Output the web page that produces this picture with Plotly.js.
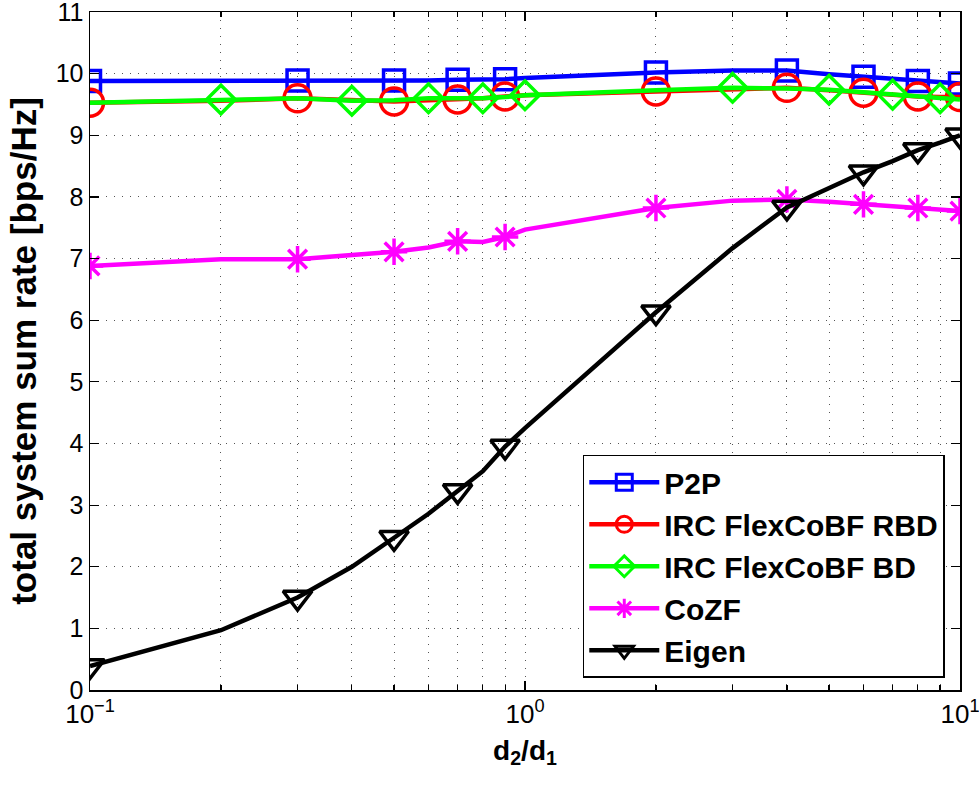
<!DOCTYPE html>
<html>
<head>
<meta charset="utf-8">
<script src="https://cdn.plot.ly/plotly-3.0.1.min.js"></script>
<style>html,body{margin:0;padding:0;background:#fff;} #chart{width:979px;height:787px;}</style>
</head>
<body>
<div id="chart"></div>
<script>
// ---- data ----
var ratio = [0.1,0.2,0.3,0.4,0.5,0.6,0.7,0.8,0.9,1,2,3,4,5,6,7,8,9,10];
var p2p   = [9.88,9.88,9.89,9.88,9.89,9.89,9.90,9.90,9.91,9.93,10.02,10.05,10.05,9.99,9.95,9.91,9.88,9.86,9.84];
var rbd   = [9.53,9.56,9.60,9.57,9.55,9.57,9.58,9.60,9.63,9.65,9.71,9.75,9.77,9.73,9.69,9.66,9.63,9.62,9.62];
var bd    = [9.53,9.58,9.60,9.56,9.57,9.60,9.60,9.60,9.62,9.65,9.73,9.77,9.76,9.74,9.70,9.66,9.62,9.60,9.58];
var cozf  = [6.88,6.99,6.99,7.05,7.11,7.18,7.28,7.27,7.35,7.47,7.82,7.94,7.96,7.92,7.88,7.85,7.82,7.80,7.77];
var eigen = [0.39,0.97,1.50,2.00,2.47,2.86,3.23,3.55,3.95,4.25,6.13,7.17,7.83,8.15,8.40,8.58,8.76,8.88,9.00];

var markOdd  = [0.1,0.3,0.5,0.7,0.9,2,4,6,8,10];
var markEven = [0.2,0.4,0.6,0.8,1,3,5,7,9];

var names = ["P2P","IRC FlexCoBF RBD","IRC FlexCoBF BD","CoZF","Eigen"];
var xTickVals = [0.1,1,10];
var xTickText = ["10<sup>\u22121</sup>","10<sup>0</sup>","10<sup>1</sup>"];
var xMinorVals = [0.2,0.3,0.4,0.5,0.6,0.7,0.8,0.9,2,3,4,5,6,7,8,9];

var series = [
  {name:names[0], y:p2p,   marks:markOdd,  color:"#0000ff", symbol:"square-open",        size:21},
  {name:names[1], y:rbd,   marks:markOdd,  color:"#ff0000", symbol:"circle-open",        size:27},
  {name:names[2], y:bd,    marks:markEven, color:"#00ff00", symbol:"diamond-open",       size:22},
  {name:names[3], y:cozf,  marks:markOdd,  color:"#ff00ff", symbol:"asterisk-open",      size:22},
  {name:names[4], y:eigen, marks:markOdd,  color:"#000000", symbol:"triangle-down-open", size:25}
];

var traces = [];
series.forEach(function(s){
  var mx = [], my = [];
  ratio.forEach(function(r,i){ if (s.marks.indexOf(r) >= 0) { mx.push(r); my.push(s.y[i]); } });
  traces.push({x:ratio, y:s.y, type:"scatter", mode:"lines", line:{color:s.color, width:4.5}, showlegend:false, hoverinfo:"skip"});
  traces.push({x:mx, y:my, type:"scatter", mode:"markers", showlegend:false,
    marker:{symbol:s.symbol, size:s.size, color:s.color, line:{color:s.color, width:3.5}}});
  traces.push({x:[null], y:[null], type:"scatter", mode:"lines+markers", name:s.name, legendgroup:s.name,
    line:{color:s.color, width:4.5},
    marker:{symbol:s.symbol, size:16, color:s.color, line:{color:s.color, width:3}}});
});

var font = "Liberation Sans, Arial, Helvetica, sans-serif";
var layout = {
  width:979, height:787,
  margin:{l:90, r:19, t:12, b:97},
  paper_bgcolor:"#fff", plot_bgcolor:"#fff",
  font:{family:font, color:"#000", size:26},
  showlegend:true,
  legend:{x:0.9825, xanchor:"right", y:0.018, yanchor:"bottom",
    bgcolor:"#fff", bordercolor:"#000", borderwidth:1.5,
    font:{family:font, size:30, color:"#000", weight:"bold"},
    tracegroupgap:0, itemwidth:70},
  xaxis:{type:"log", range:[-1,1],
    tickmode:"array", tickvals:xTickVals, ticktext:xTickText, ticklabeloverflow:"allow",
    ticks:"inside", ticklen:9, tickwidth:1.2, tickcolor:"#000",
    showline:true, linecolor:"#000", linewidth:1.5, mirror:"ticks",
    showgrid:true, gridcolor:"#555", gridwidth:1, griddash:"1px,7px",
    zeroline:false,
    tickfont:{size:26},
    minor:{tickmode:"array", tickvals:xMinorVals, ticks:"inside", ticklen:5, tickcolor:"#000",
      showgrid:true, gridcolor:"#555", gridwidth:1, griddash:"1px,7px"},
    title:{text:"<b>d<sub>2</sub>/d<sub>1</sub></b>", font:{size:28}, standoff:12}},
  yaxis:{range:[0,11.0005], dtick:1, tick0:0, ticklabeloverflow:"allow",
    ticks:"inside", ticklen:9, tickwidth:1.2, tickcolor:"#000",
    showline:true, linecolor:"#000", linewidth:1.5, mirror:"ticks",
    showgrid:true, gridcolor:"#555", gridwidth:1, griddash:"1px,7px",
    zeroline:false,
    tickfont:{size:25},
    title:{text:"<b>total system sum rate [bps/Hz]</b>", font:{size:35}, standoff:8}}
};

Plotly.newPlot("chart", traces, layout, {displayModeBar:false, staticPlot:true});
</script>
</body>
</html>
